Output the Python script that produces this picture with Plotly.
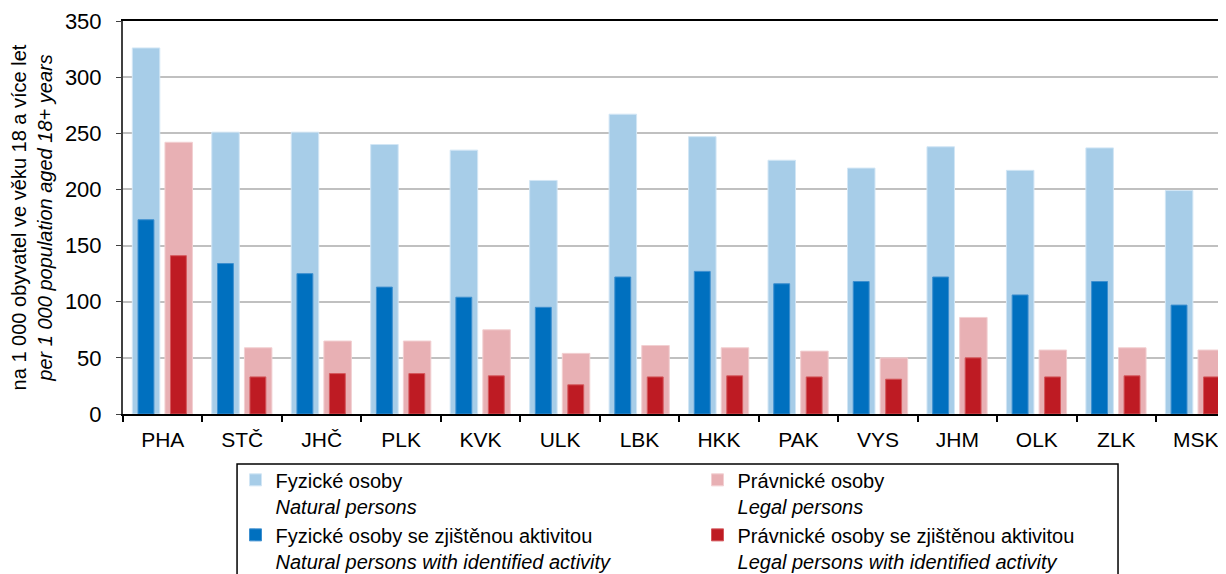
import plotly.graph_objects as go

categories = ['PHA', 'STČ', 'JHČ', 'PLK', 'KVK', 'ULK', 'LBK', 'HKK', 'PAK', 'VYS', 'JHM', 'OLK', 'ZLK', 'MSK']
natural = [326, 251, 251, 240, 235, 208, 267, 247, 226, 219, 238, 217, 237, 199]
legal = [242, 59, 65, 65, 75, 54, 61, 59, 56, 50, 86, 57, 59, 57]
natural_active = [173, 134, 125, 113, 104, 95, 122, 127, 116, 118, 122, 106, 118, 97]
legal_active = [141, 33, 36, 36, 34, 26, 33, 34, 33, 31, 50, 33, 34, 33]
y_ticks = [0, 50, 100, 150, 200, 250, 300, 350]

FONT = 'Liberation Sans, Arial, sans-serif'

fig = go.Figure()
# svetle sloupce (vsechny osoby)
fig.add_trace(go.Bar(x=categories, y=natural, name='Fyzické osoby<br><i>Natural persons</i>',
                     marker=dict(color='#a7cde8', line=dict(color='#d2e6f5', width=1)),
                     width=0.346, offset=-0.383))
fig.add_trace(go.Bar(x=categories, y=legal, name='Právnické osoby<br><i>Legal persons</i>',
                     marker=dict(color='#e8b0b4', line=dict(color='#f2d0d2', width=1)),
                     width=0.346, offset=0.028))
# tmave sloupce (se zjistenou aktivitou)
fig.add_trace(go.Bar(x=categories, y=natural_active,
                     name='Fyzické osoby se zjištěnou aktivitou<br><i>Natural persons with identified activity</i>',
                     marker=dict(color='#0070bf', line=dict(color='#3d8fcf', width=1)),
                     width=0.2, offset=-0.311))
fig.add_trace(go.Bar(x=categories, y=legal_active,
                     name='Právnické osoby se zjištěnou aktivitou<br><i>Legal persons with identified activity</i>',
                     marker=dict(color='#be1b23', line=dict(color='#d4575c', width=1)),
                     width=0.2, offset=0.0975))

# stranka ma 8px okraj body -> figura o 8px mensi
fig.update_layout(
    width=1218, height=566,
    barmode='overlay',
    plot_bgcolor='white', paper_bgcolor='white',
    font=dict(family=FONT, size=20, color='black'),
    margin=dict(l=115, r=0, t=13, b=160, autoexpand=False),
    xaxis=dict(type='category', range=[-0.5, 13.38], showgrid=False, automargin=False,
               showline=True, linecolor='black', linewidth=2, mirror=True,
               ticks='outside', tickson='boundaries', ticklen=6, tickwidth=1.5, tickcolor='black',
               ticklabelstandoff=6, tickfont=dict(size=21)),
    yaxis=dict(range=[0, 350], tickvals=y_ticks, showgrid=True, gridcolor='#c0c0c0', gridwidth=1.5,
               zeroline=False, showline=True, linecolor='#404040', linewidth=2, automargin=False,
               ticks='outside', ticklen=5, tickcolor='#404040', ticklabelstandoff=10,
               tickfont=dict(size=22),
               title=dict(text='na 1 000 obyvatel ve věku 18 a více let<br><i>per 1 000 population aged 18+ years</i>',
                          font=dict(size=20), standoff=8)),
    legend=dict(orientation='h', x=0.102, xanchor='left', y=-0.118, yanchor='top',
                borderwidth=0, bgcolor='rgba(0,0,0,0)',
                entrywidth=417, valign='top', font=dict(size=20), traceorder='normal'),
    showlegend=True,
)

# ramecek legendy
fig.add_shape(type='rect', xref='paper', yref='paper',
              x0=0.1034, x1=0.9021, y0=-0.1272, y1=-0.45,
              line=dict(color='black', width=1.5), fillcolor='rgba(0,0,0,0)')

fig.write_html('out.html')
